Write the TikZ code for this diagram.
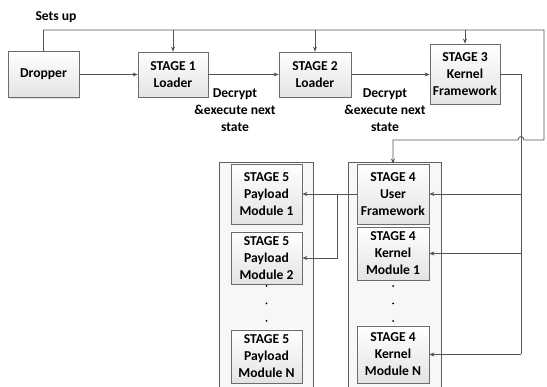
\documentclass[tikz,border=0pt]{standalone}
\usepackage{fontspec}
\setmainfont{Carlito}
\usetikzlibrary{arrows.meta,shadows}
\begin{document}
\begin{tikzpicture}[x=1pt,y=-1pt,
  font=\bfseries\fontsize{13.6}{17}\selectfont,
  box/.style={draw=gray!85!black, line width=0.7pt, top color=white, bottom color=gray!22,
    align=center, inner sep=1pt,
    drop shadow={shadow xshift=1.2pt, shadow yshift=-1.2pt, opacity=0.25}},
  cont/.style={draw=gray!75!black, line width=0.7pt, fill=gray!6, inner sep=0pt},
  line/.style={draw=gray!65!black, line width=0.8pt},
  arr/.style={line, -{Stealth[length=5pt,width=4pt]}},
  lbl/.style={align=center, inner sep=0pt}]
\useasboundingbox[fill=white] (0,0) rectangle (547,387);

% containers
\node[cont, minimum width=93pt, minimum height=236pt] (c4) at (394.5,280) {};
\node[cont, minimum width=94pt, minimum height=236pt] (c5) at (266,280) {};

% top row
\node[box, minimum width=71pt, minimum height=46pt] (dropper) at (43.5,74.5) {Dropper};
\node[box, minimum width=70pt, minimum height=45pt] (s1) at (173,74.5) {STAGE 1\\Loader};
\node[box, minimum width=72pt, minimum height=45pt] (s2) at (315,74.5) {STAGE 2\\Loader};
\node[box, minimum width=70pt, minimum height=60pt] (s3) at (465,74) {STAGE 3\\Kernel\\Framework};

% stage 4
\node[box, minimum width=72pt, minimum height=60pt] (u4) at (393,194) {STAGE 4\\User\\Framework};
\node[box, minimum width=72pt, minimum height=53pt] (k41) at (393,253.5) {STAGE 4\\Kernel\\Module 1};
\node[box, minimum width=72pt, minimum height=57pt] (k4N) at (393,354.5) {STAGE 4\\Kernel\\Module N};

% stage 5
\node[box, minimum width=71pt, minimum height=60pt] (p51) at (266.5,194) {STAGE 5\\Payload\\Module 1};
\node[box, minimum width=71pt, minimum height=52pt] (p52) at (266.5,258) {STAGE 5\\Payload\\Module 2};
\node[box, minimum width=71pt, minimum height=53pt] (p5N) at (266.5,356.5) {STAGE 5\\Payload\\Module N};

% dots
\foreach \yy in {286,303.5,321}{
  \fill[black] (393,\yy) circle (1pt);
  \fill[black] (266.5,\yy) circle (1pt);
}

% labels
\node[lbl] (setsup) at (56,17) {Sets up};
\node[lbl] (dec1) at (235,110) {Decrypt\\\&execute next\\state};
\node[lbl] (dec2) at (385,110) {Decrypt\\\&execute next\\state};

% coordinates
\coordinate (top) at (0,30);
\coordinate (rbus) at (544,0);
\coordinate (bus) at (521,0);
\coordinate (br) at (337,0);

% main chain
\draw[arr] (dropper.east) -- (dropper.east -| s1.west);
\draw[arr] (s1.east) -- (s1.east -| s2.west);
\draw[arr] (s2.east) -- (s2.east -| s3.west);

% sets up line
\draw[arr] (dropper.north) |- (rbus |- top) -- (544,140) -- (524,140)
  .. controls (524,135.5) and (518,135.5) .. (518,140) -| (u4.north);
\draw[arr] (s1.north |- top) -- (s1.north);
\draw[arr] (s2.north |- top) -- (s2.north);
\draw[arr] (s3.north |- top) -- (s3.north);

% stage 3 bus
\draw[line] (s3.east) -| (bus |- k4N.east);
\draw[arr] (bus |- u4.east) -- (u4.east);
\draw[arr] (bus |- k41.east) -- (k41.east);
\draw[arr] (bus |- k4N.east) -- (k4N.east);

% stage 4 to stage 5
\draw[arr] (u4.west) -- (u4.west -| p51.east);
\draw[arr] (br |- u4.west) |- (p52.east);
\end{tikzpicture}
\end{document}
